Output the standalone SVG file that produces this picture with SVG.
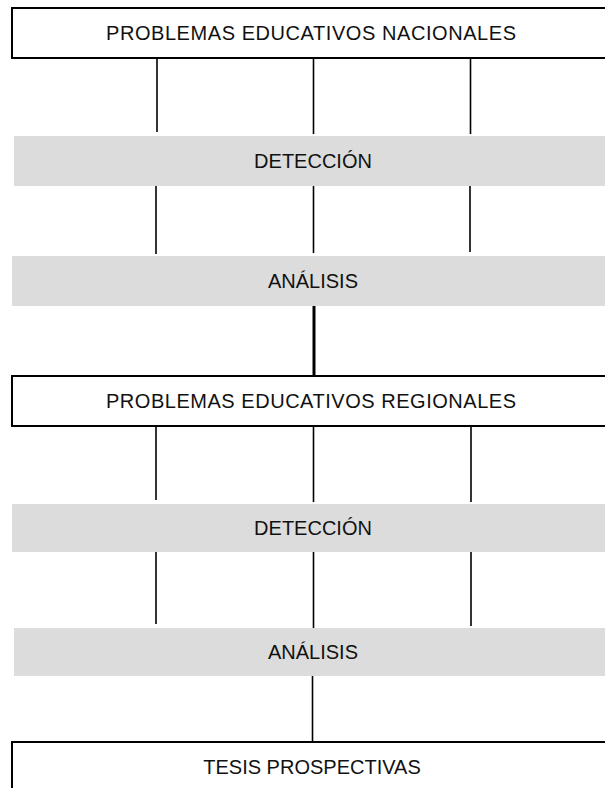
<svg xmlns="http://www.w3.org/2000/svg" width="605" height="788" viewBox="0 0 605 788">
<style>
.box{fill:#fff;stroke:#000;stroke-width:2}
.band{fill:#dcdcdc}
.lbl{font-family:"Liberation Sans",Arial,sans-serif;font-size:20px;fill:#111;text-anchor:middle}
.ln{stroke:#000;stroke-width:1.6;fill:none}
.thick{stroke:#000;stroke-width:3;fill:none}
</style>
<rect width="605" height="788" fill="#fff"/>
<g id="connectors">
<line class="ln" x1="157" y1="58" x2="157" y2="132"/>
<line class="ln" x1="313.5" y1="58" x2="313.5" y2="134"/>
<line class="ln" x1="470.5" y1="58" x2="470.5" y2="134"/>
<line class="ln" x1="156" y1="186" x2="156" y2="254"/>
<line class="ln" x1="313.5" y1="186" x2="313.5" y2="253"/>
<line class="ln" x1="470" y1="186" x2="470" y2="252"/>
<line class="thick" x1="314" y1="304" x2="314" y2="376"/>
<line class="ln" x1="156" y1="426" x2="156" y2="500"/>
<line class="ln" x1="313.5" y1="426" x2="313.5" y2="502"/>
<line class="ln" x1="471" y1="426" x2="471" y2="502"/>
<line class="ln" x1="156" y1="552" x2="156" y2="624"/>
<line class="ln" x1="313.5" y1="552" x2="313.5" y2="628"/>
<line class="ln" x1="471" y1="552" x2="471" y2="626"/>
<line class="ln" x1="312.5" y1="674" x2="312.5" y2="742"/>
</g>
<g id="n1">
<rect class="box" x="12" y="8" width="610" height="50"/>
<text class="lbl" x="311" y="40" textLength="410" lengthAdjust="spacing">PROBLEMAS EDUCATIVOS NACIONALES</text>
</g>
<g id="n2">
<rect class="band" x="14" y="136" width="600" height="50"/>
<text class="lbl" x="313" y="168">DETECCIÓN</text>
</g>
<g id="n3">
<rect class="band" x="12" y="256" width="600" height="50"/>
<text class="lbl" x="313" y="288">ANÁLISIS</text>
</g>
<g id="n4">
<rect class="box" x="12" y="376" width="610" height="50"/>
<text class="lbl" x="311" y="408" textLength="410" lengthAdjust="spacing">PROBLEMAS EDUCATIVOS REGIONALES</text>
</g>
<g id="n5">
<rect class="band" x="12" y="504" width="600" height="48"/>
<text class="lbl" x="313" y="535">DETECCIÓN</text>
</g>
<g id="n6">
<rect class="band" x="14" y="628" width="600" height="48"/>
<text class="lbl" x="313" y="659">ANÁLISIS</text>
</g>
<g id="n7">
<rect class="box" x="12" y="742" width="610" height="60"/>
<text class="lbl" x="312" y="774">TESIS PROSPECTIVAS</text>
</g>
</svg>
